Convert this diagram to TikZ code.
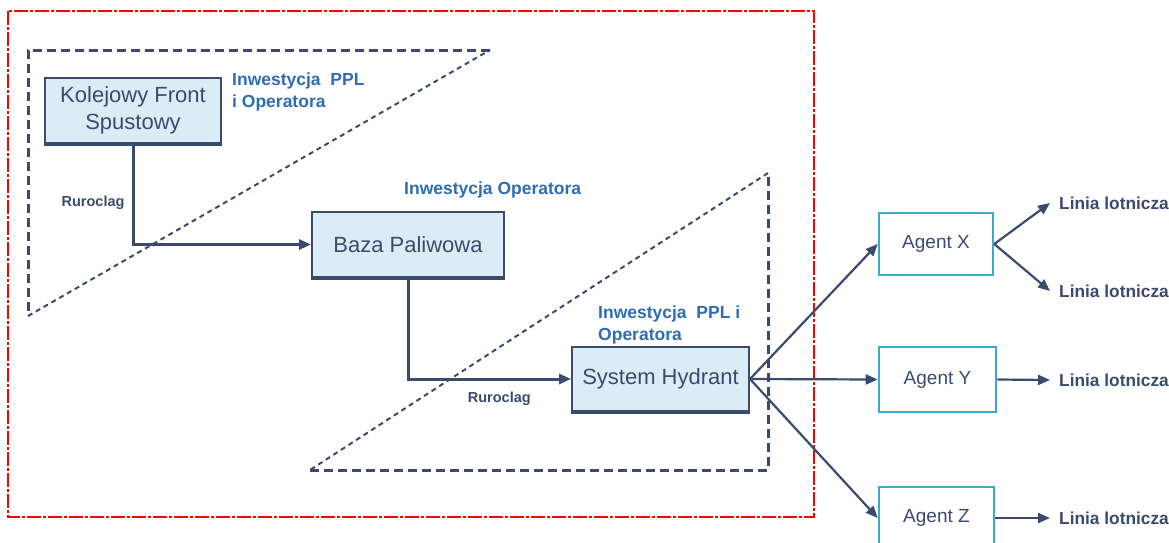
\documentclass[tikz,border=0pt]{standalone}
\usepackage{fontspec}
\setmainfont{Liberation Sans}
\usetikzlibrary{arrows.meta}
\definecolor{navy}{HTML}{3B4A6E}
\definecolor{invblue}{HTML}{2E6DB4}
\definecolor{boxfill}{HTML}{DAEDF6}
\definecolor{agentblue}{HTML}{3FA7D6}

\begin{document}
\begin{tikzpicture}[x=1pt,y=-1pt,
  unitbox/.style={draw=navy, line width=2pt, fill=boxfill, text=navy, align=center,
    inner sep=0pt, font=\fontsize{22}{27}\selectfont},
  agentbox/.style={draw=agentblue, line width=2.6pt, fill=white, text=navy, inner sep=0pt,
    font=\fontsize{19}{22}\selectfont},
  invlabel/.style={text=invblue, anchor=west, align=left, inner sep=0pt,
    font=\bfseries\fontsize{17.5}{22}\selectfont},
  pipelabel/.style={text=navy, inner sep=0pt, font=\bfseries\fontsize{14.5}{16}\selectfont},
  airline/.style={text=navy, anchor=west, inner sep=0pt, font=\bfseries\fontsize{17.3}{20}\selectfont},
  pipe/.style={draw=navy, line width=3pt, -{Triangle[length=12pt,width=10pt]}},
  feed/.style={draw=navy, line width=2.2pt, -{Triangle[length=12pt,width=10pt]}},
  zone/.style={draw=navy, line width=3pt, dash pattern=on 9pt off 5pt},
  zonecut/.style={draw=navy, line width=2pt, dash pattern=on 5pt off 4pt}]

\useasboundingbox (0,0) rectangle (1169,542);

% granica inwestycji
\draw[red, line width=1.5pt, dash pattern=on 14pt off 2pt on 3pt off 2pt] (8,11) rectangle (814,517);

% strefy
\draw[zone] (490,50) -- (28,50) -- (28,316);
\draw[zonecut] (28,316) -- (490,50);
\draw[zone] (310,470) -- (768,470) -- (768,173);
\draw[zonecut] (768,173) -- (310,470);

% obiekty
\node[unitbox, minimum width=176pt, minimum height=65pt] (kfs) at (133,110.5) {Kolejowy Front\\Spustowy};
\node[unitbox, minimum width=192pt, minimum height=65pt] (baza) at (408,244.5) {Baza Paliwowa};
\node[unitbox, minimum width=177pt, minimum height=64pt] (hydrant) at (660.5,379) {System Hydrant};
\foreach \b in {kfs,baza,hydrant}
  \draw[navy, line width=4pt] (\b.south west) -- (\b.south east);

\node[agentbox, minimum width=114pt, minimum height=62pt] (agx) at (936,244) {Agent X};
\node[agentbox, minimum width=117pt, minimum height=65pt] (agy) at (937.5,379.5) {Agent Y};
\node[agentbox, minimum width=115pt, minimum height=62pt] (agz) at (936.5,518) {Agent Z};

\node[invlabel] (inv1) at (232,92) {Inwestycja\ \ PPL\\i Operatora};
\node[invlabel] (inv2) at (404,190) {Inwestycja Operatora};
\node[invlabel] (inv3) at (598,325) {Inwestycja\ \ PPL i\\Operatora};

\node[airline] (lin1) at (1059,203) {Linia lotnicza};
\node[airline] (lin2) at (1059,291) {Linia lotnicza};
\node[airline] (lin3) at (1059,380) {Linia lotnicza};
\node[airline] (lin4) at (1059,518) {Linia lotnicza};

% rurociagi
\draw[pipe] (kfs.south) |- node[pipelabel, pos=0.29, left=7pt] {Ruroclag} (baza.west);
\draw[pipe] (baza.south) |- node[pipelabel, pos=0.78, below=11pt] {Ruroclag} (hydrant.west);

% dystrybucja
\draw[feed] (hydrant.east) -- (agx.west);
\draw[feed] (hydrant.east) -- (agy.west);
\draw[feed] (hydrant.east) -- (agz.west);
\draw[feed] (agx.east) -- ([xshift=-9pt]lin1.west);
\draw[feed] (agx.east) -- ([xshift=-9pt]lin2.west);
\draw[feed] (agy.east) -- ([xshift=-9pt]lin3.west);
\draw[feed] (agz.east) -- ([xshift=-9pt]lin4.west);
\end{tikzpicture}
\end{document}
